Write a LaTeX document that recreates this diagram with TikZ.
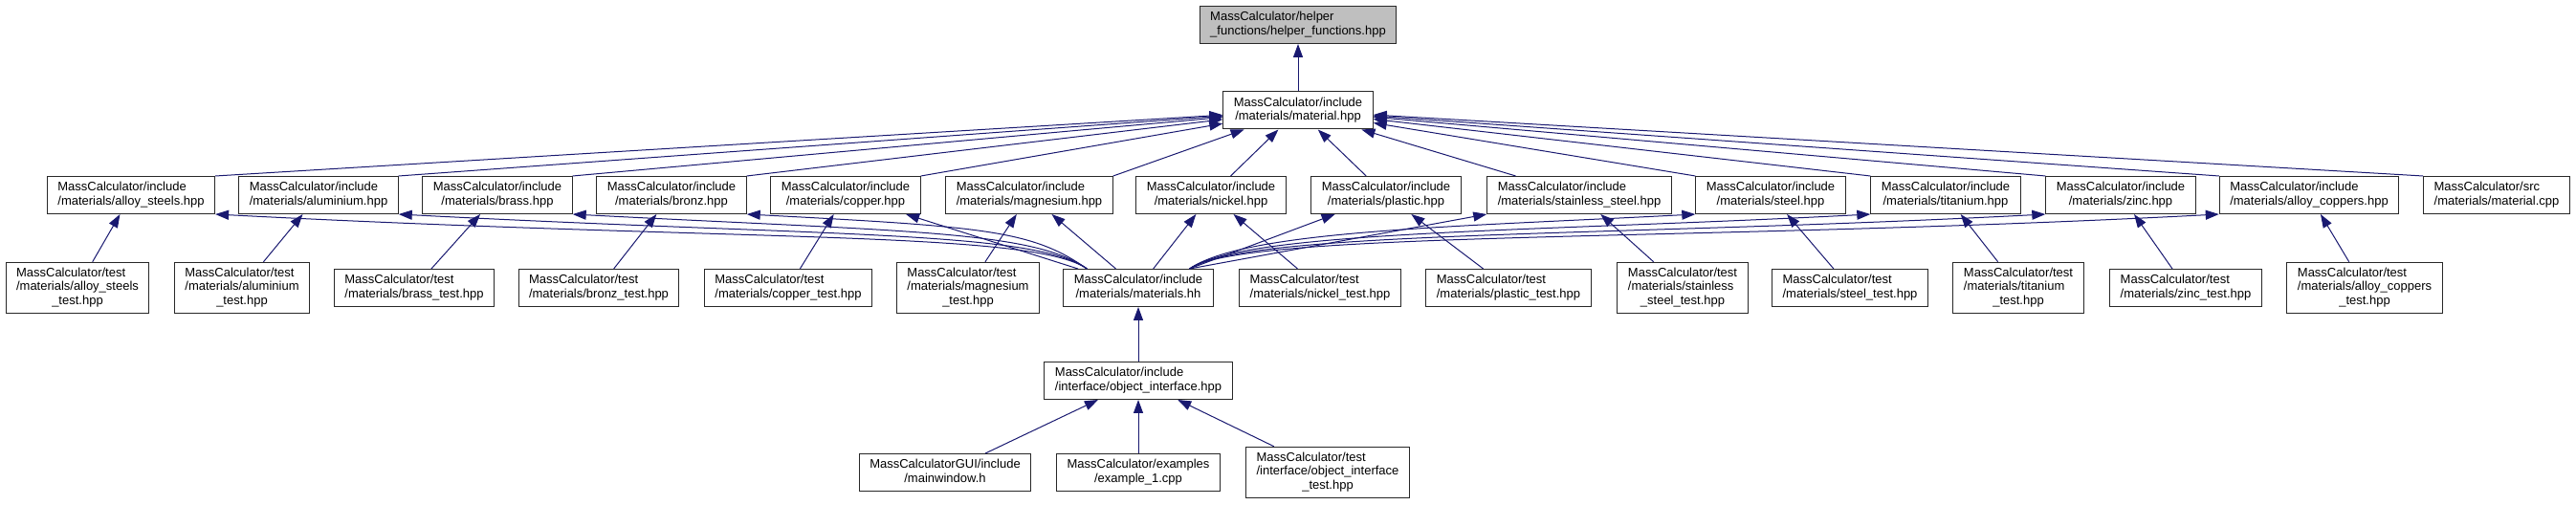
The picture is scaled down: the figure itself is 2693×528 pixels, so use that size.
\documentclass[tikz,border=0pt]{standalone}
\usepackage{fontspec}
\setmainfont{Liberation Sans}
\usetikzlibrary{arrows.meta}
\definecolor{depEdge}{RGB}{25,25,112}
\definecolor{depBorder}{RGB}{40,40,40}
\definecolor{depFocus}{RGB}{191,191,191}

\newcommand{\twoline}[2]{\begin{tabular}{@{}l@{}}#1\\\multicolumn{1}{@{}c@{}}{#2}\end{tabular}}
\newcommand{\threeline}[3]{\begin{tabular}{@{}l@{}}#1\\#2\\\multicolumn{1}{@{}c@{}}{#3}\end{tabular}}

\begin{document}
\begin{tikzpicture}[x=0.5pt, y=-0.5pt,
    file/.style={draw=depBorder, line width=0.5pt, fill=white, inner xsep=5.5pt,
                 inner ysep=2.5pt, font=\fontsize{6.5}{7.25}\selectfont},
    focus/.style={file, fill=depFocus},
    dep/.style={depEdge, line width=0.5pt, -{Triangle[length=7pt,width=5pt]}},
    lcurve/.style={out=145, in=-3, out distance=35pt, in distance=#1},
    rcurve/.style={out=35, in=183, out distance=35pt, in distance=#1}]
  \useasboundingbox (0,0) rectangle (2693,528);

  % header under inspection and its one includer
  \node[focus] (helper) at (1357,26) {\twoline{MassCalculator/helper}{\_functions/helper\_functions.hpp}};
  \node[file] (material) at (1357,115.5) {\twoline{MassCalculator/include}{/materials/material.hpp}};

  % material headers
  \node[file] (alloysteels)  at (137,204)  {\twoline{MassCalculator/include}{/materials/alloy\_steels.hpp}};
  \node[file] (aluminium)    at (333,204)  {\twoline{MassCalculator/include}{/materials/aluminium.hpp}};
  \node[file] (brass)        at (520,204)  {\twoline{MassCalculator/include}{/materials/brass.hpp}};
  \node[file] (bronz)        at (702,204)  {\twoline{MassCalculator/include}{/materials/bronz.hpp}};
  \node[file] (copper)       at (884,204)  {\twoline{MassCalculator/include}{/materials/copper.hpp}};
  \node[file] (magnesium)    at (1076,204) {\twoline{MassCalculator/include}{/materials/magnesium.hpp}};
  \node[file] (nickel)       at (1266,204) {\twoline{MassCalculator/include}{/materials/nickel.hpp}};
  \node[file] (plastic)      at (1449,204) {\twoline{MassCalculator/include}{/materials/plastic.hpp}};
  \node[file] (stainless)    at (1651,204) {\twoline{MassCalculator/include}{/materials/stainless\_steel.hpp}};
  \node[file] (steel)        at (1851,204) {\twoline{MassCalculator/include}{/materials/steel.hpp}};
  \node[file] (titanium)     at (2034,204) {\twoline{MassCalculator/include}{/materials/titanium.hpp}};
  \node[file] (zinc)         at (2217,204) {\twoline{MassCalculator/include}{/materials/zinc.hpp}};
  \node[file] (alloycoppers) at (2414,204) {\twoline{MassCalculator/include}{/materials/alloy\_coppers.hpp}};
  \node[file] (materialcpp)  at (2610,204) {\twoline{MassCalculator/src}{/materials/material.cpp}};

  % tests and the umbrella header
  \node[file] (alloysteelstest)  at (81,301)   {\threeline{MassCalculator/test}{/materials/alloy\_steels}{\_test.hpp}};
  \node[file] (aluminiumtest)    at (253,301)  {\threeline{MassCalculator/test}{/materials/aluminium}{\_test.hpp}};
  \node[file] (brasstest)        at (433,301)  {\twoline{MassCalculator/test}{/materials/brass\_test.hpp}};
  \node[file] (bronztest)        at (626,301)  {\twoline{MassCalculator/test}{/materials/bronz\_test.hpp}};
  \node[file] (coppertest)       at (824,301)  {\twoline{MassCalculator/test}{/materials/copper\_test.hpp}};
  \node[file] (magnesiumtest)    at (1012,301) {\threeline{MassCalculator/test}{/materials/magnesium}{\_test.hpp}};
  \node[file] (hh)               at (1190,301) {\twoline{MassCalculator/include}{/materials/materials.hh}};
  \node[file] (nickeltest)       at (1380,301) {\twoline{MassCalculator/test}{/materials/nickel\_test.hpp}};
  \node[file] (plastictest)      at (1577,301) {\twoline{MassCalculator/test}{/materials/plastic\_test.hpp}};
  \node[file] (stainlesstest)    at (1759,301) {\threeline{MassCalculator/test}{/materials/stainless}{\_steel\_test.hpp}};
  \node[file] (steeltest)        at (1934,301) {\twoline{MassCalculator/test}{/materials/steel\_test.hpp}};
  \node[file] (titaniumtest)     at (2110,301) {\threeline{MassCalculator/test}{/materials/titanium}{\_test.hpp}};
  \node[file] (zinctest)         at (2285,301) {\twoline{MassCalculator/test}{/materials/zinc\_test.hpp}};
  \node[file] (alloycopperstest) at (2472,301) {\threeline{MassCalculator/test}{/materials/alloy\_coppers}{\_test.hpp}};

  % interface
  \node[file] (objif)      at (1190,398) {\twoline{MassCalculator/include}{/interface/object\_interface.hpp}};
  \node[file] (mainwindow) at (988,494)  {\twoline{MassCalculatorGUI/include}{/mainwindow.h}};
  \node[file] (example)    at (1190,494) {\twoline{MassCalculator/examples}{/example\_1.cpp}};
  \node[file] (objiftest)  at (1388,494) {\threeline{MassCalculator/test}{/interface/object\_interface}{\_test.hpp}};

  % includes of material.hpp
  \draw[dep] (material) -- (helper);
  \draw[dep] (alloysteels.north east) -- (material);
  \draw[dep] (aluminium.north east) -- (material);
  \draw[dep] (brass.north east) -- (material);
  \draw[dep] (bronz.north east) -- (material);
  \draw[dep] (copper.north east) -- (material);
  \draw[dep] (magnesium.north east) -- (material);
  \draw[dep] (nickel) -- (material);
  \draw[dep] (plastic) -- (material);
  \draw[dep] (stainless) -- (material);
  \draw[dep] (steel.north west) -- (material);
  \draw[dep] (titanium.north west) -- (material);
  \draw[dep] (zinc.north west) -- (material);
  \draw[dep] (alloycoppers.north west) -- (material);
  \draw[dep] (materialcpp.north west) -- (material);

  % materials.hh pulls in every header
  \draw[dep] ([xshift=12.5pt]hh.north west) to[lcurve=275pt] (alloysteels.south east);
  \draw[dep] ([xshift=12.5pt]hh.north west) to[lcurve=225pt] (aluminium.south east);
  \draw[dep] ([xshift=12.5pt]hh.north west) to[lcurve=175pt] (brass.south east);
  \draw[dep] ([xshift=12.5pt]hh.north west) to[lcurve=125pt] (bronz.south east);
  \draw[dep] (hh) -- (copper);
  \draw[dep] (hh) -- (magnesium);
  \draw[dep] (hh) -- (nickel);
  \draw[dep] (hh) -- (plastic);
  \draw[dep] ([xshift=-12.5pt]hh.north east) -- (stainless.south west);
  \draw[dep] ([xshift=-12.5pt]hh.north east) to[rcurve=125pt] (steel.south west);
  \draw[dep] ([xshift=-12.5pt]hh.north east) to[rcurve=175pt] (titanium.south west);
  \draw[dep] ([xshift=-12.5pt]hh.north east) to[rcurve=225pt] (zinc.south west);
  \draw[dep] ([xshift=-12.5pt]hh.north east) to[rcurve=275pt] (alloycoppers.south west);

  % tests
  \draw[dep] (alloysteelstest) -- (alloysteels);
  \draw[dep] (aluminiumtest) -- (aluminium);
  \draw[dep] (brasstest) -- (brass);
  \draw[dep] (bronztest) -- (bronz);
  \draw[dep] (coppertest) -- (copper);
  \draw[dep] (magnesiumtest) -- (magnesium);
  \draw[dep] (nickeltest) -- (nickel);
  \draw[dep] (plastictest) -- (plastic);
  \draw[dep] (stainlesstest) -- (stainless);
  \draw[dep] (steeltest) -- (steel);
  \draw[dep] (titaniumtest) -- (titanium);
  \draw[dep] (zinctest) -- (zinc);
  \draw[dep] (alloycopperstest) -- (alloycoppers);

  \draw[dep] (objif) -- (hh);
  \draw[dep] (mainwindow) -- (objif);
  \draw[dep] (example) -- (objif);
  \draw[dep] (objiftest) -- (objif);
\end{tikzpicture}
\end{document}
